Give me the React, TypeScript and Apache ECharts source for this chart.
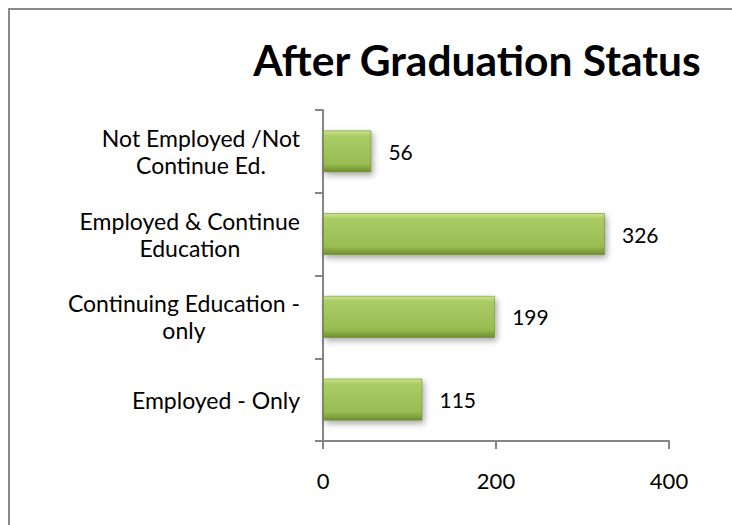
import React, { useEffect, useRef } from "react";
import * as echarts from "echarts";

const categories = [
  "Employed - Only",
  "Continuing Education -\nonly",
  "Employed & Continue\nEducation",
  "Not Employed /Not\nContinue Ed.",
];
const values = [115, 199, 326, 56];
const xTicks = { min: 0, max: 400, interval: 200 };
const titleText = "After Graduation Status";

export default function App() {
  const ref = useRef<HTMLDivElement>(null);
  useEffect(() => {
    if (!ref.current) return;
    document.documentElement.style.overflow = "hidden";
    document.body.style.overflow = "hidden";
    const chart = echarts.init(ref.current, null, { renderer: "svg" });
    const font = "Lato";
    chart.setOption({
      animation: false,
      backgroundColor: "#ffffff",
      title: {
        text: titleText,
        left: 464,
        top: 25,
        textAlign: "center",
        textStyle: { fontFamily: font, fontWeight: "bold", fontSize: 42.5, color: "#000" },
      },
      grid: { left: 315, right: 63, top: 102, bottom: 84 },
      xAxis: {
        type: "value",
        min: xTicks.min,
        max: xTicks.max,
        interval: xTicks.interval,
        splitLine: { show: false },
        axisLine: { show: true, lineStyle: { color: "#868686", width: 2 } },
        axisTick: { show: true, inside: false, length: 8, lineStyle: { color: "#868686", width: 2 } },
        axisLabel: { margin: 28, color: "#000", fontFamily: font, fontSize: 22 },
      },
      yAxis: {
        type: "category",
        data: categories,
        axisLine: { show: true, lineStyle: { color: "#868686", width: 2 } },
        axisTick: { show: true, inside: false, length: 8, lineStyle: { color: "#868686", width: 2 } },
        axisLabel: {
          margin: 23,
          align: "right",
          formatter: (v: string) => v.split("\n").map((l) => `{a|${l}}`).join("\n"),
          rich: {
            a: { align: "center", fontFamily: font, fontSize: 23, lineHeight: 27, color: "#000" },
          },
        },
      },
      series: [
        {
          type: "bar",
          data: values,
          barWidth: "51%",
          itemStyle: {
            color: new echarts.graphic.LinearGradient(0, 0, 0, 1, [
              { offset: 0, color: "#cde690" },
              { offset: 0.12, color: "#abcc64" },
              { offset: 0.8, color: "#99bc52" },
              { offset: 1, color: "#6e8e2f" },
            ]),
            borderColor: "rgba(110,142,47,0.6)",
            borderWidth: 1,
            shadowColor: "rgba(0,0,0,0.35)",
            shadowBlur: 6,
            shadowOffsetX: 2,
            shadowOffsetY: 3,
          },
          label: {
            show: true,
            position: "right",
            distance: 17,
            color: "#000",
            fontFamily: font,
            fontSize: 21,
          },
        },
      ],
      graphic: [
        { type: "line", shape: { x1: 1, y1: 0, x2: 1, y2: 517 }, style: { stroke: "#8a8a8a", lineWidth: 2 } },
        { type: "line", shape: { x1: 0, y1: 1, x2: 724, y2: 1 }, style: { stroke: "#8a8a8a", lineWidth: 2 } },
      ],
    });
    return () => chart.dispose();
  }, []);
  return (
    <div
      ref={ref}
      style={{ position: "fixed", left: 8, top: 8, width: 724, height: 517 }}
    />
  );
}
